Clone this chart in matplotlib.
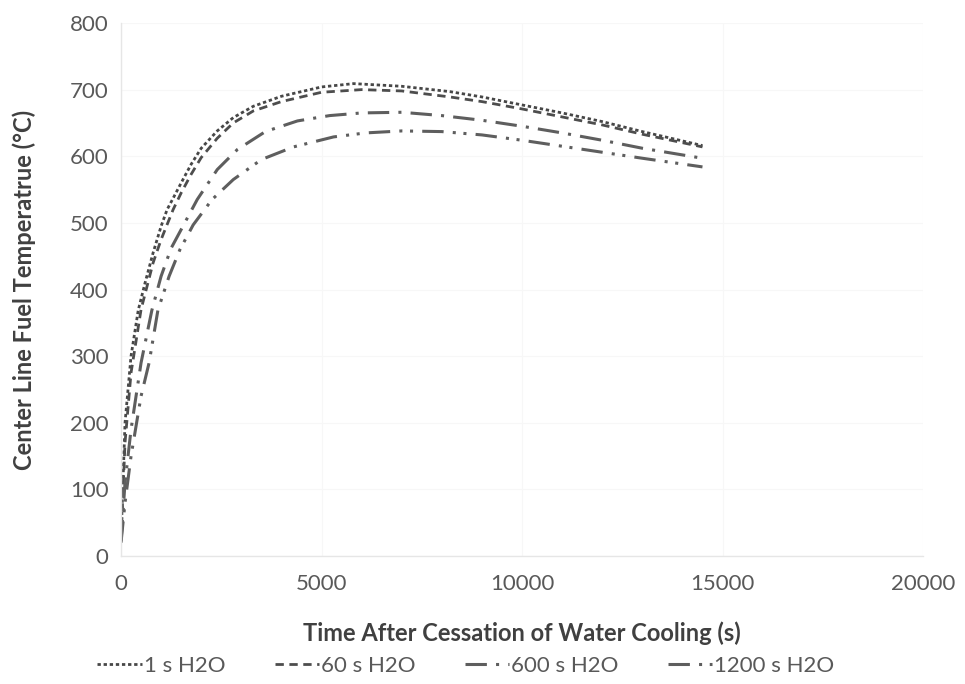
import matplotlib
matplotlib.use("Agg")
import matplotlib.pyplot as plt

# centre line fuel temperature after the water is lost, for each cooling time
t_1s = [0, 100, 250, 430, 600, 800, 1000, 1150, 1300, 1500, 1750, 2000, 2400,
        2800, 3300, 4000, 5000, 5800, 7000, 8200, 9000, 10000, 11000, 12000,
        13000, 14500]
T_1s = [25, 200, 300, 369, 410, 455, 495, 520, 537, 560, 588, 612, 638,
        658, 675, 690, 704, 709, 705, 697, 689, 677, 665, 652,
        637, 616]

t_60s = [0, 100, 250, 500, 800, 1000, 1300, 1500, 1750, 2000, 2400, 2800,
         3300, 4000, 5000, 6000, 7000, 8200, 9000, 10000, 11000, 12000,
         13000, 14500]
T_60s = [25, 170, 275, 370, 440, 475, 520, 545, 573, 598, 627, 650,
         668, 682, 696, 700, 698, 689, 682, 671, 659, 647,
         633, 614]

t_600s = [0, 100, 250, 500, 770, 1000, 1250, 1500, 1900, 2400, 2900, 3600,
          4400, 5200, 6000, 7000, 8000, 9000, 10000, 11000, 12000, 13000, 14500]
T_600s = [22, 110, 190, 290, 369, 420, 462, 490, 535, 580, 610, 637,
          653, 661, 665, 666, 661, 654, 645, 635, 624, 612, 597]

t_1200s = [0, 100, 250, 500, 700, 920, 1200, 1470, 1800, 2270, 2800, 3500,
           4300, 5300, 6100, 7000, 8000, 9000, 10000, 11000, 12000, 13000, 14500]
T_1200s = [20, 80, 150, 240, 290, 369, 420, 460, 497, 535, 565, 595,
           614, 629, 635, 638, 637, 632, 624, 615, 606, 597, 584]

x_ticks = [0, 5000, 10000, 15000, 20000]
y_ticks = [0, 100, 200, 300, 400, 500, 600, 700, 800]

plt.rcParams['font.family'] = ['Lato', 'DejaVu Sans']

fig = plt.figure(figsize=(9.65, 6.84), dpi=100)
ax = fig.add_axes([0.1254, 0.1871, 0.8311, 0.7793])

ax.plot(t_1s, T_1s, color='#474747', lw=2.0, linestyle=(0, (1.2, 1.0)),
        label='1 s H2O')
ax.plot(t_60s, T_60s, color='#4d4d4d', lw=2.0, linestyle=(0, (3.0, 2.0)),
        label='60 s H2O')
ax.plot(t_600s, T_600s, color='#5e5e5e', lw=2.2,
        linestyle=(0, (7.0, 3.0, 1.0, 3.0)), label='600 s H2O')
ax.plot(t_1200s, T_1200s, color='#5e5e5e', lw=2.2,
        linestyle=(0, (7.0, 3.0, 1.0, 2.5, 1.0, 3.0)), label='1200 s H2O')

ax.set_xlim(0, 20000)
ax.set_ylim(0, 800)
ax.set_xticks(x_ticks)
ax.set_yticks(y_ticks)
ax.tick_params(length=0, labelsize=16, labelcolor='#595959')
ax.tick_params(axis='x', pad=13)
ax.tick_params(axis='y', pad=9)
ax.grid(True, color='#f7f7f7', lw=0.8)
ax.set_axisbelow(True)

for side in ['top', 'right']:
    ax.spines[side].set_visible(False)
for side in ['left', 'bottom']:
    ax.spines[side].set_color('#e6e6e6')
    ax.spines[side].set_linewidth(1.0)

ax.set_xlabel('Time After Cessation of Water Cooling (s)', fontsize=17,
              fontweight='bold', color='#404040', labelpad=20)
ax.set_ylabel('Center Line Fuel Temperatrue (°C)', fontsize=17,
              fontweight='bold', color='#404040', labelpad=24)

leg = ax.legend(loc='upper center', bbox_to_anchor=(0.43, -0.15), ncol=4,
                frameon=False, fontsize=16, handlelength=2.0,
                handletextpad=0.1, columnspacing=2.2)
for txt in leg.get_texts():
    txt.set_color('#595959')

fig.savefig('out.png', dpi=100)
